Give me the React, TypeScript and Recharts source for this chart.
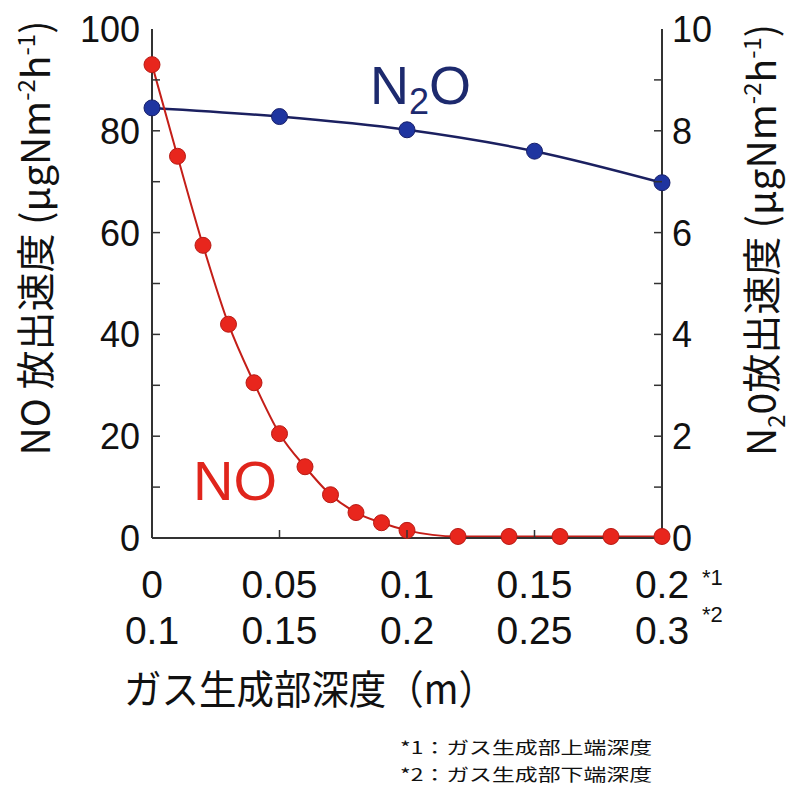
import { LineChart, Line, XAxis, YAxis } from "recharts";

// depth of the gas-generating zone top (m)
const noDepth = [0, 0.01, 0.02, 0.03, 0.04, 0.05, 0.06, 0.07, 0.08, 0.09, 0.1, 0.12, 0.14, 0.16, 0.18, 0.2];
const noValues = [93, 75, 57.5, 42, 30.5, 20.5, 14, 8.5, 5, 3, 1.5, 0.3, 0.3, 0.3, 0.3, 0.3];

const n2oDepth = [0, 0.05, 0.1, 0.15, 0.2];
const n2oValues = [8.45, 8.28, 8.02, 7.6, 6.98];

const xTicks = [0, 0.05, 0.1, 0.15, 0.2];
const xTopLabels = ["0", "0.05", "0.1", "0.15", "0.2"];
const xBottomLabels = ["0.1", "0.15", "0.2", "0.25", "0.3"];

const leftTicks = [0, 10, 20, 30, 40, 50, 60, 70, 80, 90, 100];
const rightTicks = [0, 1, 2, 3, 4, 5, 6, 7, 8, 9, 10];

const noData = noDepth.map((x, i) => ({ x, no: noValues[i] }));
const n2oData = n2oDepth.map((x, i) => ({ x, n2o: n2oValues[i] }));

const NUM_FONT = "'Liberation Sans', Arial, sans-serif";
const JP_FONT = "'Noto Sans CJK JP', sans-serif";
const AXIS = "#333";

const LeftTick = (props: any) => {
  const { x, y, payload } = props;
  const v = payload.value;
  return (
    <g>
      {v > 0 && v < 100 && <line x1={x} y1={y} x2={x + 8} y2={y} stroke={AXIS} strokeWidth={1.5} />}
      {v % 20 === 0 && (
        <text x={x - 12} y={y} dy={13} textAnchor="end" fontSize={36} fontFamily={NUM_FONT} fill="#111">
          {v}
        </text>
      )}
    </g>
  );
};

const RightTick = (props: any) => {
  const { x, y, payload } = props;
  const v = payload.value;
  return (
    <g>
      {v > 0 && v < 10 && <line x1={x} y1={y} x2={x - 8} y2={y} stroke={AXIS} strokeWidth={1.5} />}
      {v % 2 === 0 && (
        <text x={x + 10} y={y} dy={13} textAnchor="start" fontSize={36} fontFamily={NUM_FONT} fill="#111">
          {v}
        </text>
      )}
    </g>
  );
};

const BottomTick = (props: any) => {
  const { x, y, index } = props;
  return (
    <g>
      {index > 0 && index < 4 && <line x1={x} y1={y} x2={x} y2={y - 8} stroke={AXIS} strokeWidth={1.5} />}
      <text x={x} y={y + 60} textAnchor="middle" fontSize={39} fontFamily={NUM_FONT} fill="#111">
        {xTopLabels[index]}
      </text>
      <text x={x} y={y + 106} textAnchor="middle" fontSize={39} fontFamily={NUM_FONT} fill="#111">
        {xBottomLabels[index]}
      </text>
      {index === 4 && (
        <>
          <text x={x + 40} y={y + 47} fontSize={22} fontFamily={NUM_FONT} fill="#111">*1</text>
          <text x={x + 40} y={y + 84} fontSize={22} fontFamily={NUM_FONT} fill="#111">*2</text>
        </>
      )}
    </g>
  );
};

const TopTick = (props: any) => {
  const { x, y, index } = props;
  if (index === 0 || index === 4) return <g />;
  return <line x1={x} y1={y} x2={x} y2={y + 8} stroke={AXIS} strokeWidth={1.5} />;
};

export default function App() {
  return (
    <div style={{ position: "absolute", left: 0, top: 0, background: "#fff" }}>
      <LineChart width={793} height={788} margin={{ top: 29, right: 0, bottom: 0, left: 0 }}>
        <XAxis
          dataKey="x"
          type="number"
          domain={[0, 0.2]}
          ticks={xTicks}
          interval={0}
          height={250}
          tickSize={0}
          tickMargin={0}
          tick={<BottomTick />}
          axisLine={{ stroke: AXIS, strokeWidth: 2 }}
          allowDuplicatedCategory={false}
        />
        <XAxis
          xAxisId="top"
          orientation="top"
          dataKey="x"
          type="number"
          domain={[0, 0.2]}
          ticks={xTicks}
          interval={0}
          height={0}
          tickSize={0}
          tickMargin={0}
          tick={<TopTick />}
          axisLine={{ stroke: AXIS, strokeWidth: 2 }}
        />
        <YAxis
          yAxisId="no"
          type="number"
          domain={[0, 100]}
          ticks={leftTicks}
          interval={0}
          width={152}
          tickSize={0}
          tickMargin={0}
          tick={<LeftTick />}
          axisLine={{ stroke: AXIS, strokeWidth: 2 }}
        />
        <YAxis
          yAxisId="n2o"
          orientation="right"
          type="number"
          domain={[0, 10]}
          ticks={rightTicks}
          interval={0}
          width={131}
          tickSize={0}
          tickMargin={0}
          tick={<RightTick />}
          axisLine={{ stroke: AXIS, strokeWidth: 2 }}
        />
        <Line
          yAxisId="n2o"
          data={n2oData}
          dataKey="n2o"
          type="monotone"
          stroke="#1b2060"
          strokeWidth={2.5}
          dot={{ r: 8, fill: "#1f35a0", stroke: "#18206a", strokeWidth: 1 }}
          isAnimationActive={false}
        />
        <Line
          yAxisId="no"
          data={noData}
          dataKey="no"
          type="monotone"
          stroke="#c41e18"
          strokeWidth={2}
          dot={{ r: 8, fill: "#e8261d", stroke: "#b81a14", strokeWidth: 1 }}
          isAnimationActive={false}
        />
        {/* series labels */}
        <text x={370} y={104} fontSize={54} fontFamily={NUM_FONT} fill="#1d2a6e">
          N<tspan fontSize={36} dy={10}>2</tspan><tspan dy={-10}>O</tspan>
        </text>
        <text x={193} y={500} fontSize={56} fontFamily={NUM_FONT} fill="#e0251c">
          NO
        </text>
        {/* axis titles */}
        <text
          transform="translate(50, 238) rotate(-90)"
          textAnchor="middle"
          fontSize={39}
          fontFamily={JP_FONT}
          fill="#111"
        >
          NO 放出速度 (μgNm<tspan fontSize={24} dy={-15}>-2</tspan>
          <tspan dy={15}>h</tspan>
          <tspan fontSize={24} dy={-15}>-1</tspan>
          <tspan dy={15}>)</tspan>
        </text>
        <text
          transform="translate(776, 240) rotate(-90)"
          textAnchor="middle"
          fontSize={39}
          fontFamily={JP_FONT}
          fill="#111"
        >
          N<tspan fontSize={24} dy={9}>2</tspan>
          <tspan dy={-9}>0放出速度 (μgNm</tspan>
          <tspan fontSize={24} dy={-15}>-2</tspan>
          <tspan dy={15}>h</tspan>
          <tspan fontSize={24} dy={-15}>-1</tspan>
          <tspan dy={15}>)</tspan>
        </text>
        <text x={124} y={704} fontSize={40} fontFamily={JP_FONT} fill="#111" textLength={372} lengthAdjust="spacingAndGlyphs">
          ガス生成部深度（m）
        </text>
        <text x={400} y={754} fontSize={17} fontFamily={JP_FONT} fill="#111" textLength={252} lengthAdjust="spacingAndGlyphs">
          *1：ガス生成部上端深度
        </text>
        <text x={400} y={781} fontSize={17} fontFamily={JP_FONT} fill="#111" textLength={252} lengthAdjust="spacingAndGlyphs">
          *2：ガス生成部下端深度
        </text>
      </LineChart>
    </div>
  );
}
